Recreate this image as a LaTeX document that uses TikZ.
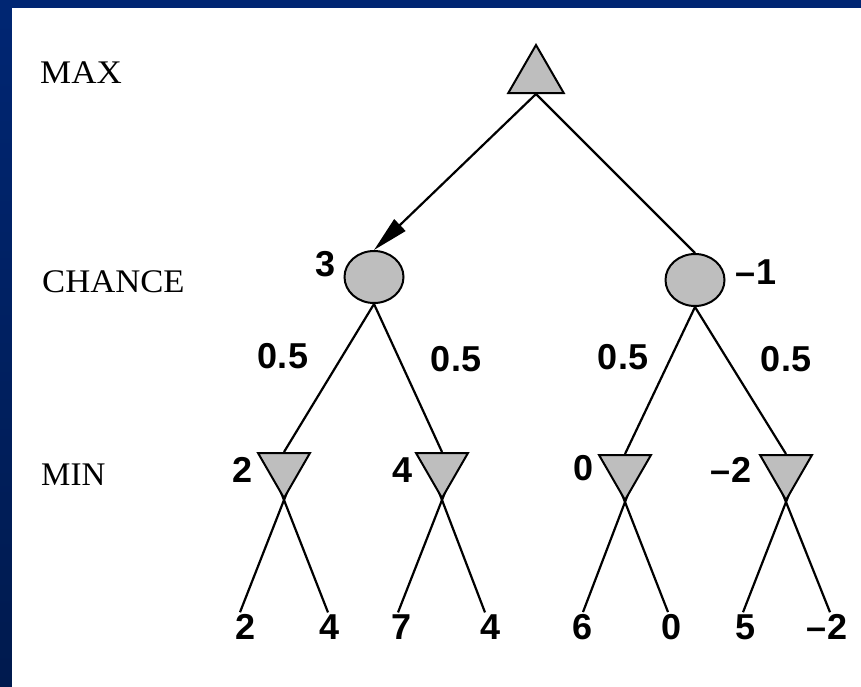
\documentclass[tikz,border=0pt]{standalone}
\usepackage{fontspec}
\usepackage{graphicx}
\setmainfont{Liberation Serif}
\newfontfamily\numfont{Liberation Sans}
\usetikzlibrary{shapes.geometric,arrows.meta,calc}
\pgfdeclarelayer{bg}
\pgfdeclarelayer{edges}
\pgfsetlayers{bg,edges,main}
\definecolor{nodegray}{RGB}{190,190,190}
\definecolor{slideblue}{RGB}{0,38,115}
\definecolor{slidedark}{RGB}{0,26,78}
\begin{document}
\begin{tikzpicture}[x=1pt,y=-1pt,
  lvl/.style={font=\fontsize{33}{33}\selectfont, anchor=base west, inner sep=0},
  num/.style={font=\numfont\bfseries\fontsize{36}{36}\selectfont, inner sep=0},
  maxnode/.style={regular polygon, regular polygon sides=3, draw, line width=2pt, fill=nodegray, minimum size=64pt, inner sep=0},
  minnode/.style={regular polygon, regular polygon sides=3, shape border rotate=180, draw, line width=2pt, fill=nodegray, minimum size=60pt, inner sep=0},
  chnode/.style={ellipse, draw, line width=2pt, fill=nodegray, minimum width=59pt, minimum height=52pt, inner sep=0},
  edge/.style={line width=2.2pt},
]
\useasboundingbox (0,0) rectangle (861,686);
\begin{pgfonlayer}{bg}
\shade[top color=slideblue,bottom color=slidedark] (0,0) rectangle (861,686);
\fill[white] (12,8) rectangle (880,700);
\end{pgfonlayer}

% level labels
\node[lvl] (lmax) at (40,83) {\scalebox{1.06}[1]{MAX}};
\node[lvl] (lchance) at (42,292) {\scalebox{1.05}[1]{CHANCE}};
\node[lvl] (lmin) at (41,485) {MIN};

% tree nodes
\node[maxnode] (max) at (536,77) {};
\node[chnode] (c1) at (374,277) {};
\node[chnode] (c2) at (695,280) {};
\node[minnode] (m1) at (284,468) {};
\node[minnode] (m2) at (442,468) {};
\node[minnode] (m3) at (625,470) {};
\node[minnode] (m4) at (786,470) {};

% values
\node[num] (v3) at (326,264) {3};
\node[num] (vm1) at (756,272) {–1};
\node[num] (p1) at (283,356) {0.5};
\node[num] (p2) at (456,359) {0.5};
\node[num] (p3) at (623,357) {0.5};
\node[num] (p4) at (786,359) {0.5};
\node[num] (w1) at (243,470) {2};
\node[num] (w2) at (403,470) {4};
\node[num] (w3) at (584,468) {0};
\node[num] (w4) at (731,470) {–2};

% leaves
\node[num] (l1) at (246,627) {2};
\node[num] (l2) at (330,627) {4};
\node[num] (l3) at (402,627) {7};
\node[num] (l4) at (491,627) {4};
\node[num] (l5) at (583,627) {6};
\node[num] (l6) at (671,627) {0};
\node[num] (l7) at (745,627) {5};
\node[num] (l8) at (827,627) {–2};

\coordinate (e1) at ([xshift=-6pt,yshift=2pt]l1.north);
\coordinate (e2) at ([xshift=-2pt,yshift=2pt]l2.north);
\coordinate (e3) at ([xshift=-4pt,yshift=2pt]l3.north);
\coordinate (e4) at ([xshift=-6pt,yshift=2pt]l4.north);
\coordinate (e5) at ([xshift=0pt,yshift=2pt]l5.north);
\coordinate (e6) at ([xshift=-3pt,yshift=2pt]l6.north);
\coordinate (e7) at ([xshift=-2pt,yshift=2pt]l7.north);
\coordinate (e8) at ([xshift=3pt,yshift=2pt]l8.north);

\begin{pgfonlayer}{edges}
\draw[edge,-{Triangle[length=36pt,width=16pt]}] (max.south) -- (c1.north);
\draw[edge] (max.south) -- (c2.north);
\draw[edge] (c1.south) -- (m1.north);
\draw[edge] (c1.south) -- (m2.north);
\draw[edge] (c2.south) -- (m3.north);
\draw[edge] (c2.south) -- (m4.north);
\draw[edge] ($(e1)!1.3!(m1.corner 1)$) -- (e1);
\draw[edge] ($(e2)!1.3!(m1.corner 1)$) -- (e2);
\draw[edge] ($(e3)!1.3!(m2.corner 1)$) -- (e3);
\draw[edge] ($(e4)!1.3!(m2.corner 1)$) -- (e4);
\draw[edge] ($(e5)!1.3!(m3.corner 1)$) -- (e5);
\draw[edge] ($(e6)!1.3!(m3.corner 1)$) -- (e6);
\draw[edge] ($(e7)!1.3!(m4.corner 1)$) -- (e7);
\draw[edge] ($(e8)!1.3!(m4.corner 1)$) -- (e8);
\end{pgfonlayer}
\end{tikzpicture}
\end{document}
